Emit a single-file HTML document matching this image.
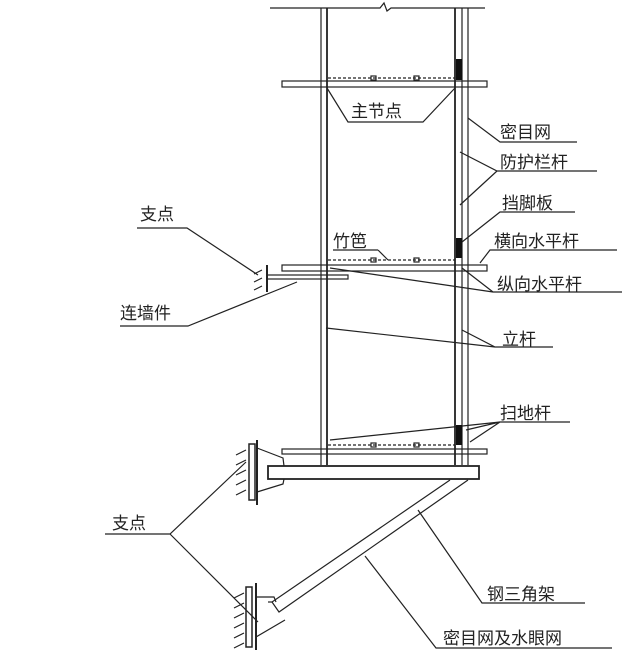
<!DOCTYPE html>
<html><head><meta charset="utf-8"><style>
html,body{margin:0;padding:0;background:#fff;}
svg{display:block}
text{font-family:"Liberation Sans","Noto Sans CJK SC",sans-serif;font-size:17px;fill:#222;}
</style></head><body>
<svg width="640" height="653" viewBox="0 0 640 653" xmlns="http://www.w3.org/2000/svg">
<g stroke="#222" fill="none" stroke-width="1.2">
<!-- top line with break -->
<path d="M270 8 H380 l4 -5 l3 8 l4 -3 H485"/>
<!-- left posts -->
<line x1="321" y1="8" x2="321" y2="465"/>
<line x1="327" y1="8" x2="327" y2="465" stroke-width="1.8"/>
<!-- right posts -->
<line x1="455" y1="8" x2="455" y2="465" stroke-width="1.8"/>
<line x1="462" y1="8" x2="462" y2="465"/>
<line x1="468" y1="8" x2="468" y2="465"/>
<!-- platforms -->
<rect x="282" y="81" width="205" height="6"/>
<rect x="282" y="265" width="205" height="6"/>
<rect x="282" y="449" width="205" height="5"/>
<!-- planks dashed -->
<line x1="328" y1="78" x2="455" y2="78" stroke-dasharray="3,2"/>
<line x1="328" y1="260" x2="455" y2="260" stroke-dasharray="3,2"/>
<line x1="328" y1="445" x2="455" y2="445" stroke-dasharray="3,2"/>
<rect x="371" y="76" width="5" height="4"/><rect x="414" y="76" width="5" height="4"/>
<rect x="371" y="258" width="5" height="4"/><rect x="414" y="258" width="5" height="4"/>
<rect x="371" y="443" width="5" height="4"/><rect x="414" y="443" width="5" height="4"/>
<!-- main node trapezoid -->
<path d="M327 88 L348 122 H423 L455 88"/>
<!-- wall connector -->
<line x1="267" y1="265" x2="267" y2="292" stroke-width="2"/>
<rect x="267" y="275" width="81" height="4"/>
<path d="M262 270 l-8 4 M262 278 l-8 4 M262 286 l-8 4"/>
<!-- steel beam -->
<rect x="268" y="466" width="211" height="13" stroke-width="1.8"/>
<!-- upper wall plate -->
<rect x="249" y="444" width="6" height="56" stroke-width="1.5"/>
<line x1="257" y1="440" x2="257" y2="505" stroke-width="2"/>
<path d="M246 450 l-10 5 M246 460 l-10 5 M246 470 l-10 5 M246 480 l-10 5 M246 490 l-10 5"/>
<path d="M257 448 L283 458 L284 466 M257 492 L283 484 L284 479"/>
<!-- strut -->
<path d="M450 480 L272 602 L279 612 L468 480"/>
<path d="M268 602 L272 602"/>
<!-- lower wall plate -->
<rect x="246" y="587" width="6" height="60" stroke-width="1.5"/>
<line x1="256" y1="583" x2="256" y2="650" stroke-width="2"/>
<path d="M244 593 l-10 5 M244 603 l-10 5 M244 613 l-10 5 M244 623 l-10 5 M244 633 l-10 5 M244 643 l-10 5"/>
<path d="M256 597 H274 L276 602 M256 637 L285 620"/>
<!-- leaders right -->
<path d="M577 142 H500 L468 118"/>
<path d="M597 171 H497 L460 152 M497 171 L460 205"/>
<path d="M575 212 H500 L462 242"/>
<path d="M617 250 H490 L480 263"/>
<path d="M622 292 H493 L462 268 M493 292 L330 268"/>
<path d="M553 347 H495 L462 330 M495 347 L326 328"/>
<path d="M570 422 H500 L330 440 M500 422 L466 430 M500 422 L470 442"/>
<path d="M378 250 H333 M378 250 L388 260"/>
<!-- leaders left -->
<path d="M137 228 H187 L258 275"/>
<path d="M120 326 H188 L297 282"/>
<path d="M105 534 H170 L246 462 M170 534 L258 622"/>
<!-- bottom leaders -->
<path d="M585 603 H482 L418 510"/>
<path d="M612 648 H436 L365 556"/>
</g>
<g fill="#111">
<rect x="456" y="59" width="6" height="21"/>
<rect x="456" y="238" width="6" height="20"/>
<rect x="456" y="425" width="6" height="20"/>
</g>
<text x="351" y="117" font-size="19">主节点</text>
<text x="333" y="247">竹笆</text>
<text x="500" y="138">密目网</text>
<text x="500" y="168">防护栏杆</text>
<text x="502" y="209">挡脚板</text>
<text x="494" y="247">横向水平杆</text>
<text x="497" y="290">纵向水平杆</text>
<text x="502" y="345">立杆</text>
<text x="500" y="419">扫地杆</text>
<text x="140" y="220">支点</text>
<text x="120" y="319">连墙件</text>
<text x="112" y="529">支点</text>
<text x="487" y="600">钢三角架</text>
<text x="443" y="644">密目网及水眼网</text>
</svg>
</body></html>
